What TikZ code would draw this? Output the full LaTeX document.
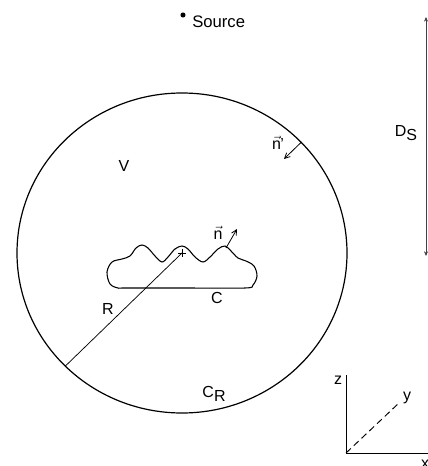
\documentclass[tikz,border=0pt]{standalone}
\usepackage{fontspec}
\setmainfont{Liberation Sans}
\usetikzlibrary{arrows.meta}
\newcommand{\vecn}{\ensuremath{\vec{\mbox{n}}}}
\begin{document}
\begin{tikzpicture}[x=0.75pt,y=-0.75pt,
  lbl/.style={inner sep=0pt,font=\fontsize{12pt}{14pt}\selectfont},
  thinline/.style={line width=0.55pt},
  arr/.style={line width=0.6pt,-{Straight Barb[length=4pt,width=4pt]}},
  axis/.style={line width=0.7pt}]
\useasboundingbox (0,0) rectangle (427,466);
% big circle C_R
\coordinate (ctr) at (182,253);
\draw[line width=0.9pt] (ctr) ellipse [x radius=123.75pt, y radius=120pt];
% source
\fill (183,15) circle [radius=1.9pt] coordinate (src);
\node[lbl,anchor=west,font=\fontsize{12.5pt}{14pt}\selectfont] (srclbl) at (192,22) {Source};
% D_S dimension
\coordinate (dtop) at (426,17);
\coordinate (dbot) at (426,256);
\draw[line width=0.45pt,black!75,{Stealth[length=3.5pt,width=3pt]}-{Stealth[length=3.5pt,width=3pt]}] (dtop) -- (dbot);
\node[lbl] (ds) at (406,133) {D\raisebox{-0.45ex}{S}};
% V
\node[lbl] (vlbl) at (124,166) {V};
% n' arrow on the circle
\coordinate (np1) at (301.5,142);
\coordinate (np2) at (284,159);
\draw[arr] (np1) -- (np2);
\node[lbl] (nplbl) at (278,143) {\vecn\kern-0.5pt'};
% body C
\draw[line width=0.8pt] plot[smooth cycle, tension=0.55] coordinates {
 (125,288) (185,288) (245,288) (253,285) (257,276) (254,266) (246,261)
 (238,258) (231,251) (225,246) (218,249) (210,257) (203,262) (195,257)
 (188,249) (182,246) (175,249) (168,257) (162,262) (155,256) (148,248)
 (142,245) (136,248) (130,256) (122,259) (112,262) (107,272) (110,284) (118,288)};
\coordinate (npk) at (226,248);
\coordinate (ntip) at (237,229);
\draw[arr] (npk) -- (ntip);
\node[lbl] (nlbl) at (218,233) {\vecn};
\node[lbl] (clbl) at (217,298) {C};
% centre mark and radius
\draw[line width=0.6pt] (178,253) -- (186,253) (182,249) -- (182,257);
\coordinate (rend) at (65.3,366.1);
\draw[thinline] (ctr) -- (rend);
\node[lbl] (rlbl) at (108,309) {R};
\node[lbl] (crlbl) at (214,394) {C\raisebox{-0.45ex}{R}};
% axes
\coordinate (o) at (346,453);
\coordinate (zend) at (346,375);
\coordinate (xend) at (430,453);
\coordinate (yend) at (400,402);
\draw[axis] (zend) -- (o) -- (xend);
\draw[axis,dashed,dash pattern=on 5pt off 3pt] (o) -- (yend);
\node[lbl] (zlbl) at (338,380) {z};
\node[lbl] (ylbl) at (407,398) {y};
\node[lbl] (xlbl) at (425,464) {x};
\end{tikzpicture}
\end{document}
